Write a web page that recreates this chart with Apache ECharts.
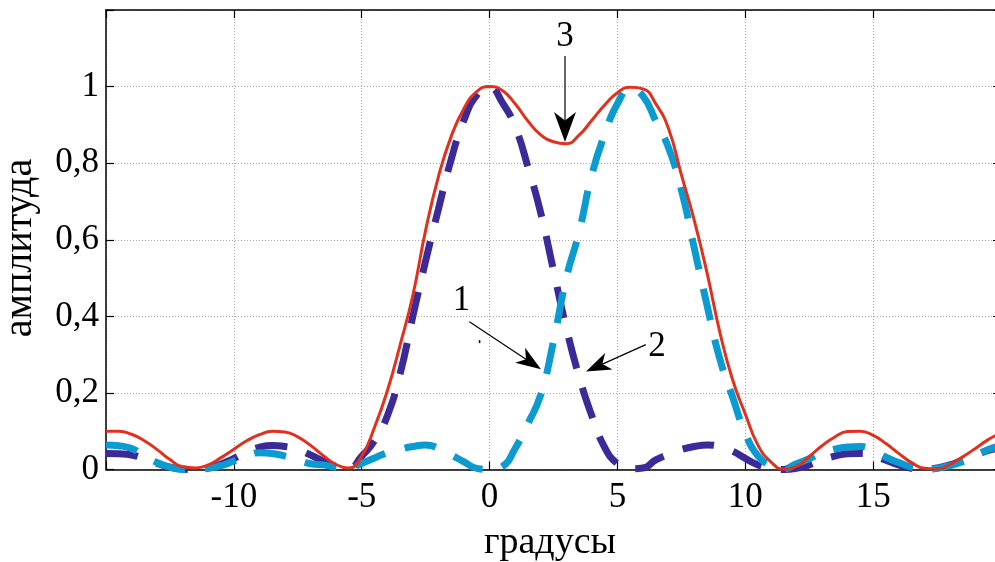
<!DOCTYPE html>
<html><head><meta charset="utf-8">
<script src="https://cdn.jsdelivr.net/npm/echarts@6/dist/echarts.min.js"></script>
<style>html,body{margin:0;padding:0;background:#fff;overflow:hidden}#c{width:995px;height:562px}</style>
</head><body><div id="c"></div>
<script>
const degrees = [-15,-14.5,-14,-13.5,-13,-12.5,-12,-11.5,-11,-10.5,-10,-9.5,-9,-8.5,-8,-7.5,-7,-6.5,-6,-5.5,-5,-4.5,-4,-3.5,-3,-2.5,-2,-1.5,-1,-0.5,0,0.5,1,1.5,2,2.5,3,3.5,4,4.5,5,5.5,6,6.5,7,7.5,8,8.5,9,9.5,10,10.5,11,11.5,12,12.5,13,13.5,14,14.5,15,15.5,16,16.5,17,17.5,18,18.5,19,19.5,20];
// curve 1 (light blue, dashed)
const curve1 = [0.064,0.062,0.055,0.036,0.018,0.006,0.000,0.000,0.003,0.010,0.022,0.035,0.044,0.042,0.035,0.025,0.015,0.012,0.006,0.004,0.016,0.030,0.044,0.053,0.060,0.064,0.056,0.038,0.020,0.003,0.000,0.008,0.055,0.120,0.195,0.335,0.500,0.620,0.770,0.875,0.955,0.995,0.975,0.910,0.840,0.730,0.580,0.430,0.290,0.190,0.095,0.035,0.010,0.002,0.015,0.028,0.043,0.053,0.059,0.060,0.050,0.032,0.018,0.006,0.000,0.003,0.010,0.020,0.035,0.052,0.062];
// curve 2 (dark blue, dashed)
const curve2 = [0.042,0.041,0.038,0.028,0.016,0.006,0.001,0.000,0.004,0.014,0.029,0.046,0.058,0.063,0.060,0.052,0.038,0.022,0.008,0.004,0.035,0.075,0.140,0.250,0.400,0.545,0.680,0.810,0.913,0.978,0.998,0.958,0.895,0.790,0.670,0.520,0.370,0.243,0.140,0.058,0.015,0.002,0.004,0.025,0.040,0.052,0.060,0.064,0.060,0.048,0.029,0.012,0.003,0.000,0.003,0.012,0.025,0.035,0.041,0.042,0.036,0.024,0.012,0.003,0.000,0.004,0.012,0.025,0.038,0.050,0.058];
// curve 3 (red, solid)
const curve3 = [0.100,0.100,0.092,0.075,0.052,0.026,0.007,0.004,0.012,0.031,0.053,0.075,0.091,0.100,0.098,0.085,0.063,0.036,0.013,0.004,0.035,0.110,0.205,0.325,0.455,0.625,0.765,0.870,0.943,0.987,1.000,0.990,0.955,0.910,0.874,0.856,0.851,0.873,0.912,0.952,0.984,0.998,0.994,0.955,0.890,0.770,0.652,0.515,0.360,0.235,0.145,0.063,0.020,0.001,0.008,0.034,0.062,0.085,0.099,0.100,0.089,0.068,0.042,0.018,0.003,0.001,0.013,0.033,0.055,0.078,0.095];
const xTickLabels = ['-10','-5','0','5','10','15'];
const yTickLabels = ['0','0,2','0,4','0,6','0,8','1'];
const xTitle = 'градусы';
const yTitle = 'амплитуда';
// annotations in data coordinates
const notes = [
  {text:'3', at:[2.95, 1.13], from:[2.95, 1.08], to:[2.95, 0.855], L:30, hw:11},
  {text:'1', at:[-1.1, 0.441], from:[-0.79, 0.386], to:[2.01, 0.262], L:25, hw:9},
  {text:'2', at:[6.55, 0.321], from:[6.11, 0.326], to:[3.77, 0.256], L:25, hw:9}
];

const FONT = '"Liberation Serif","Times New Roman",serif';
const chart = echarts.init(document.getElementById('c'), null, {renderer:'canvas'});
const mk = arr => degrees.map((d,i)=>[d, arr[i]]);
const fmtX = v => { const s = String(Math.round(v)); return xTickLabels.includes(s) ? s : ''; };
const fmtY = v => { const i = Math.round(v/0.2); return i < yTickLabels.length ? yTickLabels[i] : ''; };

const option = {
  animation:false,
  backgroundColor:'#fff',
  grid:{left:106, top:10, width:895, height:459.5, containLabel:false, outerBoundsMode:'none'},
  xAxis:[{
    type:'value', min:-15, max:20, interval:5, position:'bottom',
    axisLine:{show:true, onZero:false, lineStyle:{color:'#000', width:1.5}},
    axisTick:{show:true, inside:true, length:8, lineStyle:{color:'#000', width:1.2}},
    axisLabel:{show:true, formatter:fmtX, color:'#000', fontFamily:FONT, fontSize:35, margin:11},
    splitLine:{show:true, lineStyle:{color:'#a8a8a8', width:1, type:[1,2]}}
  },{
    type:'value', min:-15, max:20, interval:5, position:'top',
    axisLine:{show:true, onZero:false, lineStyle:{color:'#000', width:1.5}},
    axisTick:{show:true, inside:true, length:8, lineStyle:{color:'#000', width:1.2}},
    axisLabel:{show:false}, splitLine:{show:false}
  }],
  yAxis:[{
    type:'value', min:0, max:1.2, interval:0.2, position:'left',
    axisLine:{show:true, onZero:false, lineStyle:{color:'#000', width:1.5}},
    axisTick:{show:true, inside:true, length:8, lineStyle:{color:'#000', width:1.2}},
    axisLabel:{show:true, formatter:fmtY, color:'#000', fontFamily:FONT, fontSize:35, margin:7},
    splitLine:{show:true, lineStyle:{color:'#a8a8a8', width:1, type:[1,2]}}
  },{
    type:'value', min:0, max:1.2, interval:0.2, position:'right',
    axisLine:{show:true, onZero:false, lineStyle:{color:'#000', width:1.5}},
    axisTick:{show:true, inside:true, length:8, lineStyle:{color:'#000', width:1.2}},
    axisLabel:{show:false}, splitLine:{show:false}
  }],
  series:[
    {type:'line', name:'2', data:mk(curve2), smooth:true, showSymbol:false, z:2,
     lineStyle:{color:'#3b2a98', width:7, type:[32,20], cap:'butt'}},
    {type:'line', name:'1', data:mk(curve1), smooth:true, showSymbol:false, z:3,
     lineStyle:{color:'#0b9bd0', width:7, type:[32,20], cap:'butt'}},
    {type:'line', name:'3', data:mk(curve3), smooth:true, showSymbol:false, z:4,
     lineStyle:{color:'#e2301f', width:3}}
  ],
  graphic:[
    {type:'text', x:550, y:543, style:{text:xTitle, font:'38px '+FONT, fill:'#000', align:'center', verticalAlign:'middle'}},
    {type:'text', x:20, y:248, rotation:Math.PI/2, style:{text:yTitle, font:'40px '+FONT, fill:'#000', align:'center', verticalAlign:'middle'}}
  ]
};
chart.setOption(option);

function px(p){ return chart.convertToPixel({gridIndex:0}, p); }
const g = [];
notes.forEach(n => {
  const t = px(n.at), a = px(n.from), b = px(n.to);
  g.push({type:'text', x:t[0], y:t[1], z:20, style:{text:n.text, font:'35px '+FONT, fill:'#000', align:'center', verticalAlign:'middle'}});
  const dx = b[0]-a[0], dy = b[1]-a[1], len = Math.hypot(dx,dy), ux = dx/len, uy = dy/len;
  const nx = -uy, ny = ux;
  const bx = b[0]-ux*n.L, by = b[1]-uy*n.L;
  const cx = b[0]-ux*n.L*0.72, cy = b[1]-uy*n.L*0.72;
  g.push({type:'line', z:20, shape:{x1:a[0], y1:a[1], x2:cx, y2:cy}, style:{stroke:'#000', lineWidth:1.2}});
  g.push({type:'polygon', z:20, shape:{points:[[b[0],b[1]],[bx+nx*n.hw, by+ny*n.hw],[cx,cy],[bx-nx*n.hw, by-ny*n.hw]]}, style:{fill:'#000'}});
});
const d = px([-0.4, 0.334]);
g.push({type:'rect', z:20, shape:{x:d[0]-0.5, y:d[1]-1.5, width:1.5, height:3}, style:{fill:'#000'}});
chart.setOption({graphic: option.graphic.concat(g)});
</script></body></html>
